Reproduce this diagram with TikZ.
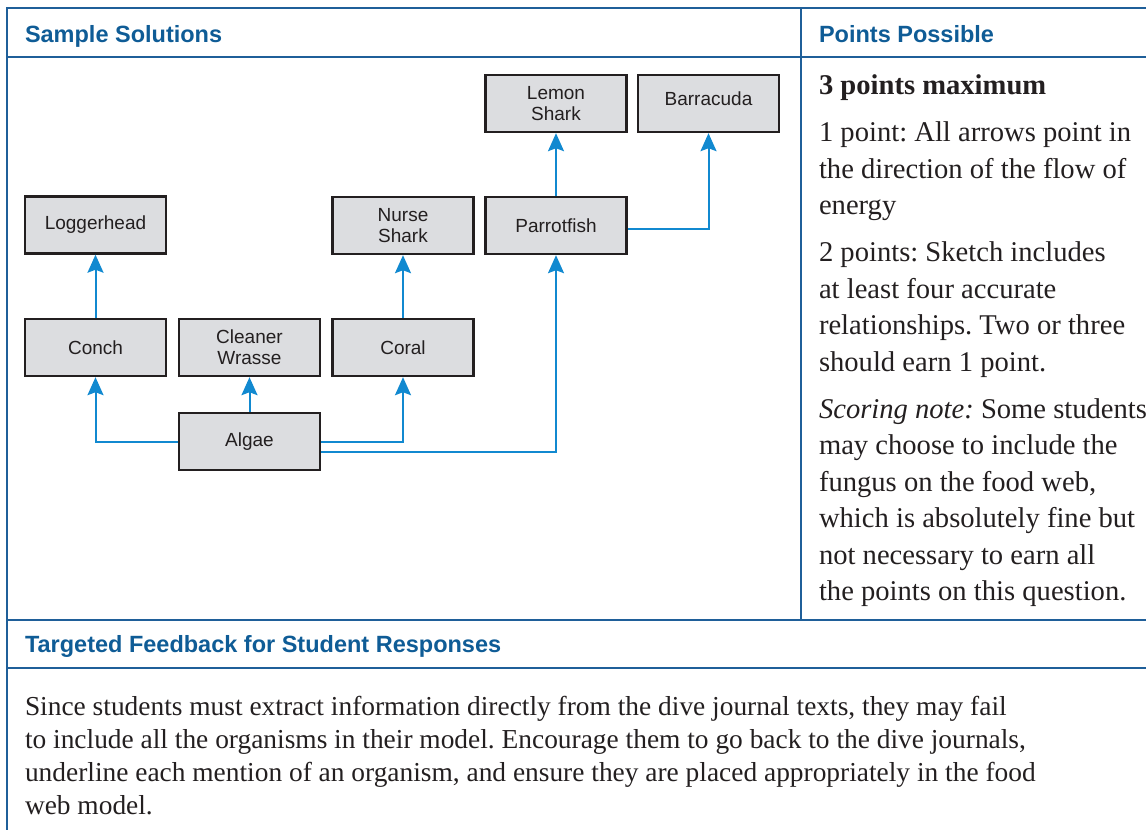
\documentclass[tikz,border=0pt]{standalone}
\usepackage{fontspec}
\setmainfont{Liberation Serif}
\setsansfont{Liberation Sans}
\usetikzlibrary{arrows.meta,positioning}
\definecolor{rulecol}{HTML}{1F5F99}
\definecolor{headcol}{HTML}{0F5C96}
\definecolor{flowcol}{HTML}{1189D0}
\definecolor{boxfill}{HTML}{DCDDE0}
\definecolor{inkcol}{HTML}{231F20}
\frenchspacing

\begin{document}
\begin{tikzpicture}
[x=1pt, y=-1pt, line width=2pt,
organism/.style={rectangle, draw=inkcol, fill=boxfill, line width=2.4pt, minimum width=141pt, minimum height=57pt, inner sep=0pt, align=center, text=inkcol, font=\sffamily\fontsize{19}{21}\selectfont},
flow/.style={draw=flowcol, line width=2pt, -{Stealth[length=18pt,width=16pt,inset=3pt]}},
rule/.style={draw=rulecol, line width=1.5pt},
heading/.style={anchor=base west, inner sep=0pt, text=headcol, font=\sffamily\bfseries\fontsize{23.5}{28}\selectfont},
body/.style={anchor=north west, inner sep=0pt, align=left, text=inkcol}]

\useasboundingbox (0,0) rectangle (1146,830);

\draw[rule] (7,830) -- (7,8) -- (1146,8);
\draw[rule] (7,57) -- (1146,57);
\draw[rule] (801,8) -- (801,620);
\draw[rule] (7,620) -- (1146,620);
\draw[rule] (7,668) -- (1146,668);

\node[heading] (solhead) at (24,42) {Sample Solutions};
\node[heading] (pointshead) at (818,42) {Points Possible};
\node[heading] (feedhead) at (24,652) {Targeted Feedback for Student Responses};

\node[organism] (lemon) at (556,103.5) {Lemon\\Shark};
\node[organism] (barracuda) at (708.5,103.5) {\raisebox{10pt}{Barracuda}};
\node[organism] (loggerhead) at (95.5,225) {Loggerhead};
\node[organism] (nurse) at (403,225.5) {Nurse\\Shark};
\node[organism] (parrotfish) at (556,225.5) {Parrotfish};
\node[organism] (conch) at (95.5,347.5) {Conch};
\node[organism] (wrasse) at (249.5,347.5) {Cleaner\\Wrasse};
\node[organism] (coral) at (403,347.5) {Coral};
\node[organism] (algae) at (249.5,441.5) {Algae};

\draw[flow] (algae.west) -| (conch.south);
\draw[flow] (algae.north) -- (wrasse.south);
\draw[flow] (algae.east) -| (coral.south);
\draw[flow] ([yshift=-10pt]algae.east) -| (parrotfish.south);
\draw[flow] (conch.north) -- (loggerhead.south);
\draw[flow] (coral.north) -- (nurse.south);
\draw[flow] (parrotfish.north) -- (lemon.south);
\draw[flow] ([yshift=-3pt]parrotfish.east) -| (barracuda.south);

\node[body, font=\fontsize{28.6}{36.5}\selectfont] (scoring) at (818,74)
{\textbf{3 points maximum}\\[10.5pt]
1 point: All arrows point in\\
the direction of the flow of\\
energy\\[10.5pt]
2 points: Sketch includes\\
at least four accurate\\
relationships. Two or three\\
should earn 1 point.\\[10.5pt]
\textit{Scoring note:} Some students\\
may choose to include the\\
fungus on the food web,\\
which is absolutely fine but\\
not necessary to earn all\\
the points on this question.};

\node[body, font=\fontsize{27.4}{33}\selectfont] (feedback) at (24,695)
{Since students must extract information directly from the dive journal texts, they may fail\\
to include all the organisms in their model. Encourage them to go back to the dive journals,\\
underline each mention of an organism, and ensure they are placed appropriately in the food\\
web model.};

\end{tikzpicture}
\end{document}
